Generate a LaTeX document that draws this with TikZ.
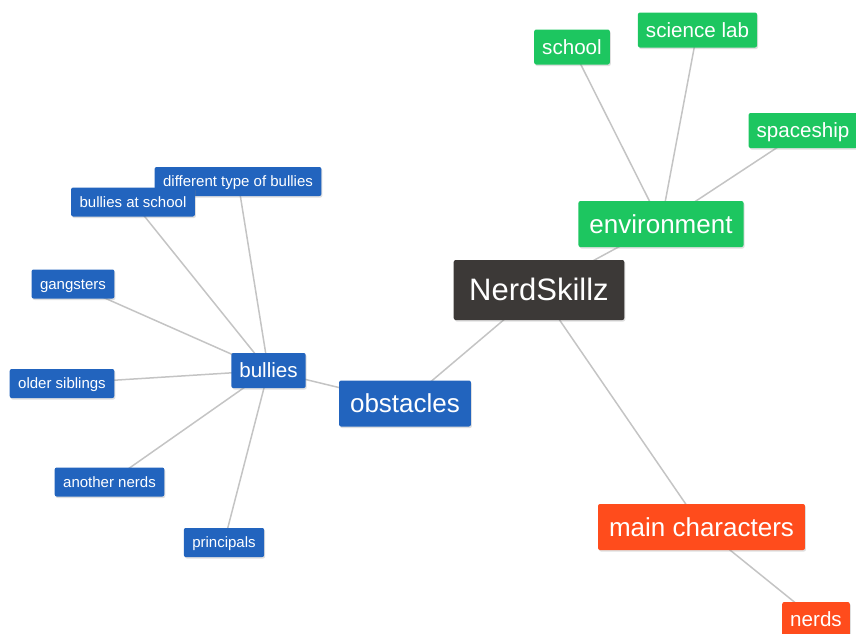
\documentclass[tikz,border=0pt]{standalone}
\usepackage{fontspec}
\setmainfont{Liberation Sans}
\usetikzlibrary{shadows,backgrounds}
\definecolor{rootgray}{RGB}{60,57,55}
\definecolor{envgreen}{RGB}{29,198,96}
\definecolor{obsblue}{RGB}{34,100,190}
\definecolor{charred}{RGB}{255,76,28}
\definecolor{linkgray}{RGB}{196,196,196}

\begin{document}
\begin{tikzpicture}[x=1pt, y=-1pt,
  box/.style={rounded corners=2pt, text=white, inner ysep=0pt,
    drop shadow={shadow xshift=1pt, shadow yshift=-1.5pt, opacity=.25}},
  rootbox/.style={box, fill=rootgray, font=\fontsize{31}{31}\selectfont,
    text height=28.1pt, text depth=6.6pt, minimum height=60pt, inner xsep=15.5pt},
  mainbox/.style={box, font=\fontsize{26}{26}\selectfont,
    text height=23.5pt, text depth=5.5pt, minimum height=46pt, inner xsep=11pt},
  midbox/.style={box, font=\fontsize{20.6}{21}\selectfont,
    text height=18.6pt, text depth=4.4pt, minimum height=35pt, inner xsep=8pt},
  smallbox/.style={box, font=\fontsize{15}{15}\selectfont,
    text height=13.6pt, text depth=3.2pt, minimum height=29pt, inner xsep=8.5pt},
  link/.style={draw=linkgray, line width=1.5pt}]
\useasboundingbox (0,0) rectangle (856,633);
\clip (0,0) rectangle (856,633);

% centre
\node[rootbox] (root) at (539,290) {NerdSkillz};

% environment
\node[mainbox, fill=envgreen] (env) at (661,224) {environment};
\node[midbox, fill=envgreen] (school) at (572,47) {school};
\node[midbox, fill=envgreen] (lab) at (697.5,30) {science lab};
\node[midbox, fill=envgreen] (ship) at (803,130.5) {spaceship};

% obstacles
\node[mainbox, fill=obsblue] (obst) at (405,403.5) {obstacles};
\node[midbox, fill=obsblue] (bullies) at (268.5,370.5) {bullies};
\node[smallbox, fill=obsblue] (difftype) at (238,181.5) {different type of bullies};
\node[smallbox, fill=obsblue] (atschool) at (133,202) {bullies at school};
\node[smallbox, fill=obsblue] (gang) at (73,284) {gangsters};
\node[smallbox, fill=obsblue] (older) at (62,383.5) {older siblings};
\node[smallbox, fill=obsblue] (another) at (109.5,482) {another nerds};
\node[smallbox, fill=obsblue] (princ) at (224,542.5) {principals};

% main characters
\node[mainbox, fill=charred] (mainchar) at (701.5,527) {main characters};
\node[midbox, fill=charred] (nerds) at (816,619.5) {nerds};

\begin{pgfonlayer}{background}
\draw[link] (root.center) -- (env.center);
\draw[link] (root.center) -- (obst.center);
\draw[link] (root.center) -- (mainchar.center);
\foreach \leaf in {school,lab,ship}
  \draw[link] (env.center) -- (\leaf.center);
\draw[link] (obst.center) -- (bullies.center);
\foreach \leaf in {difftype,atschool,gang,older,another,princ}
  \draw[link] (bullies.center) -- (\leaf.center);
\draw[link] (mainchar.center) -- (nerds.center);
\end{pgfonlayer}
\end{tikzpicture}
\end{document}
